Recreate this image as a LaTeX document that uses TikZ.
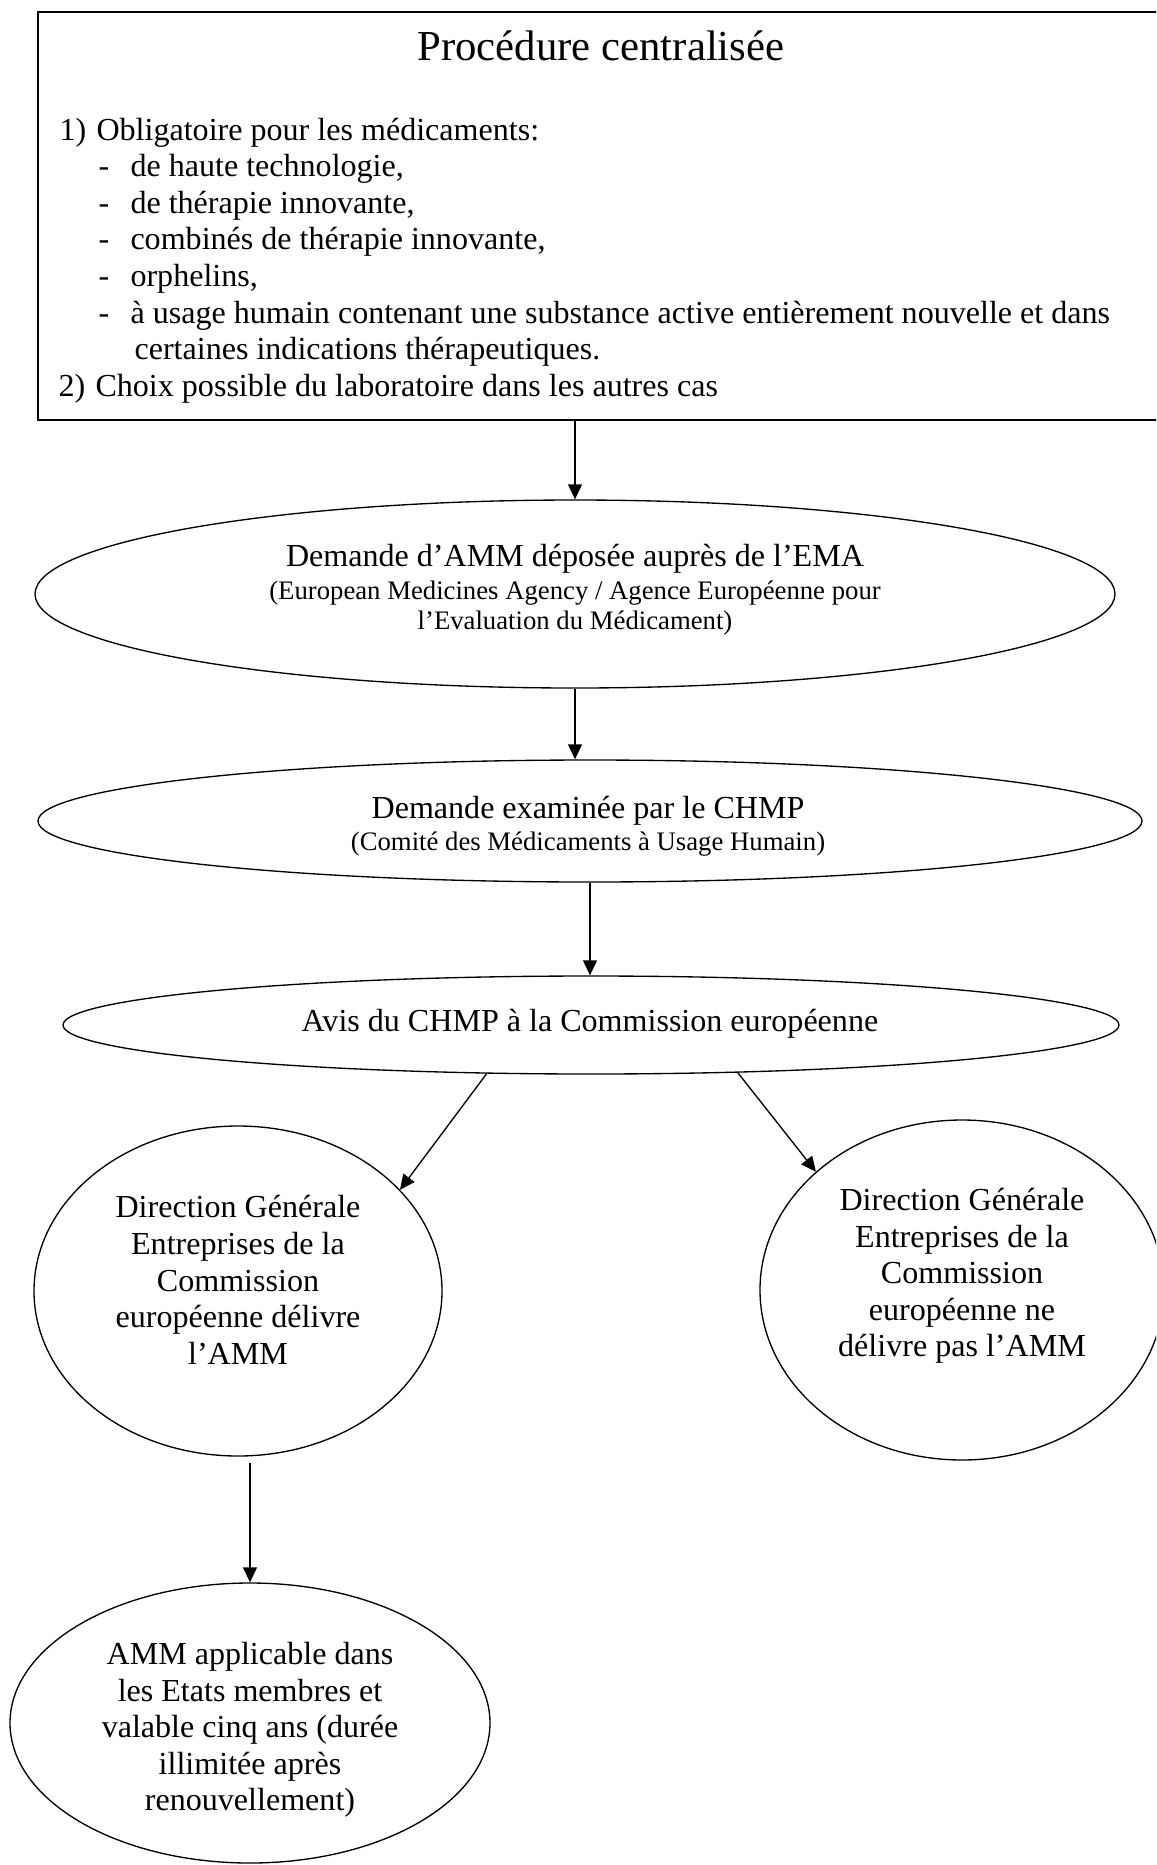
\documentclass[tikz,border=0pt]{standalone}
\usepackage{fontspec}
\setmainfont{Liberation Serif}
\usetikzlibrary{arrows.meta,shapes.geometric}
\tikzset{
  txt/.style={inner sep=0pt, align=center, font=\fontsize{12}{13.7}\selectfont},
  ln/.style={inner sep=0pt, anchor=base west, font=\fontsize{12}{13.7}\selectfont},
  oval/.style={draw, ellipse, inner sep=0pt, line width=0.5pt},
  arr/.style={line width=0.5pt, -{Triangle[length=5.6pt,width=5.2pt]}},
  framebox/.style={draw, rectangle, line width=0.8pt, inner sep=0pt, anchor=north west}
}
\newcommand{\tabA}[1]{\hbox to 13.85pt{#1\hfil}}
\newcommand{\tabB}[1]{\hbox to 11.97pt{#1\hfil}}
\begin{document}
\begin{tikzpicture}[x=0.3742pt, y=-0.3742pt]
\useasboundingbox (0,0) rectangle (1156,1865);
\clip (0,0) rectangle (1156,1865);
% top box
\node[framebox, minimum width=1128*0.3742pt, minimum height=408*0.3742pt] (box) at (37,11) {};
\node[inner sep=0pt, anchor=base, font=\fontsize{16}{19}\selectfont] (title) at (601,60) {Procédure centralisée};
\node[ln] (l1) at (59,140) {\tabA{1)}Obligatoire pour les médicaments:};
\node[ln] (l2) at (98,176.6) {\tabB{-}de haute technologie,};
\node[ln] (l3) at (98,213.2) {\tabB{-}de thérapie innovante,};
\node[ln] (l4) at (98,249.8) {\tabB{-}combinés de thérapie innovante,};
\node[ln] (l5) at (98,286.4) {\tabB{-}orphelins,};
\node[ln] (l6) at (98,323) {\tabB{-}à usage humain contenant une substance active entièrement nouvelle et dans};
\node[ln] (l7) at (134,359.6) {certaines indications thérapeutiques.};
\node[ln] (l8) at (58,396) {\tabA{2)}Choix possible du laboratoire dans les autres cas};
% ellipses
\node[oval, minimum width=1080*0.3742pt, minimum height=188*0.3742pt] (e1) at (575,594) {};
\node[txt] (e1t) at (575,590) {Demande d’AMM déposée auprès de l’EMA\\[-1.4pt]
  {\fontsize{10}{11.5}\selectfont (European Medicines Agency / Agence Européenne pour}\\[-2.5pt]
  {\fontsize{10}{11.5}\selectfont l’Evaluation du Médicament)}};
\node[oval, minimum width=1104*0.3742pt, minimum height=122*0.3742pt] (e2) at (590,821) {};
\node[txt] (e2t) at (588,826) {Demande examinée par le CHMP\\[-1.7pt]
  {\fontsize{10}{11.5}\selectfont (Comité des Médicaments à Usage Humain)}};
\node[oval, minimum width=1056*0.3742pt, minimum height=98*0.3742pt] (e3) at (591,1025) {};
\node[txt] (e3t) at (590,1024) {Avis du CHMP à la Commission européenne};
\node[oval, minimum width=408*0.3742pt, minimum height=330*0.3742pt] (c1) at (238,1291) {};
\node[txt] (c1t) at (238,1280) {Direction Générale\\Entreprises de la\\Commission\\européenne délivre\\l’AMM};
\node[oval, minimum width=404*0.3742pt, minimum height=340*0.3742pt] (c2) at (962,1290) {};
\node[txt] (c2t) at (962,1276) {Direction Générale\\Entreprises de la\\Commission\\européenne ne\\délivre pas l’AMM};
\node[oval, minimum width=480*0.3742pt, minimum height=280*0.3742pt] (e5) at (250,1723) {};
\node[txt] (e5t) at (250,1730) {AMM applicable dans\\les Etats membres et\\valable cinq ans (durée\\illimitée après\\renouvellement)};
% connectors
\draw[arr] (e1.north |- box.south) -- (e1.north);
\draw[arr] (e1.south) -- (e1.south |- e2.north);
\draw[arr] (e2.south) -- (e2.south |- e3.north);
\draw[arr] (e3.205.4) -- (c1.32);
\draw[arr] (e3.-18.8) -- (c2.141.1);
\draw[arr] ([yshift=-2.5pt]c1.south -| e5.north) -- (e5.north);
\end{tikzpicture}
\end{document}
